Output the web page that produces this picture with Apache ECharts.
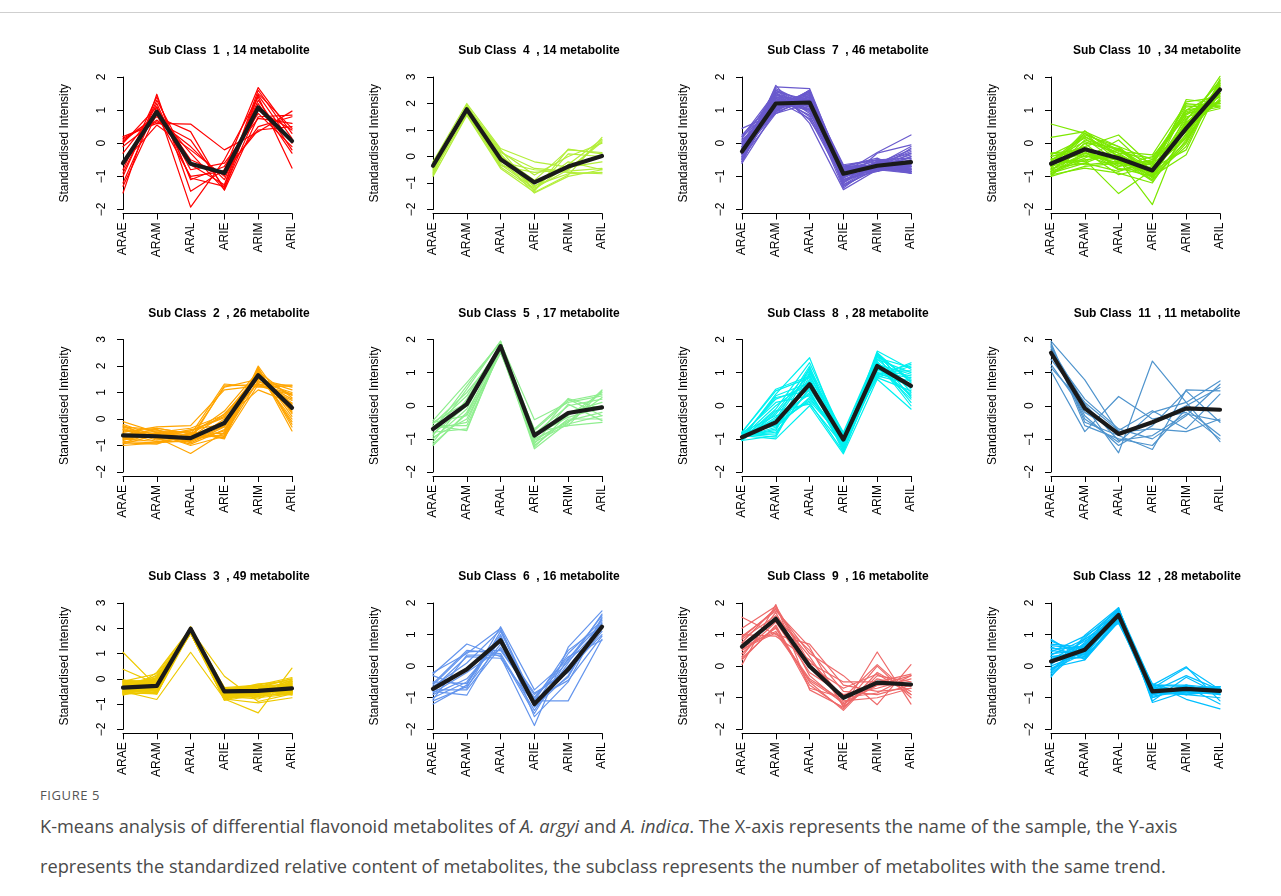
<!DOCTYPE html>
<html>
<head>
<meta charset="utf-8">
<script src="https://cdn.jsdelivr.net/npm/echarts@6/dist/echarts.min.js"></script>
<style>
  html, body { margin: 0; padding: 0; background: #fff; }
  #page { position: relative; width: 1281px; height: 896px; overflow: hidden; background: #fff; }
  #chart { position: absolute; left: 0; top: 0; width: 1281px; height: 780px; }
  #rule { position: absolute; left: 0; top: 12px; width: 1281px; height: 0; border-top: 1px solid #cfcfcf; z-index: 2; }
  #figlabel { position: absolute; left: 40px; top: 786px; font-family: "Open Sans", "Noto Sans", sans-serif; font-size: 13px; letter-spacing: 0.6px; color: #555; }
  #caption { position: absolute; left: 40px; top: 806px; width: 1235px; font-family: "Open Sans", "Noto Sans", sans-serif; font-size: 18.2px; line-height: 40px; color: #4a4a4a; }
</style>
</head>
<body>
<div id="page">
  <div id="chart"></div>
  <div id="rule"></div>
  <div id="figlabel">FIGURE 5</div>
  <div id="caption">K-means analysis of differential flavonoid metabolites of <i>A. argyi</i> and <i>A. indica</i>. The X-axis represents the name of the sample, the Y-axis<br>represents the standardized relative content of metabolites, the subclass represents the number of metabolites with the same trend.</div>
</div>
<script>
// Samples on the x axis
const samples = ['ARAE', 'ARAM', 'ARAL', 'ARIE', 'ARIM', 'ARIL'];

// Sub class 1 – 14 metabolites
const sub1 = [
  [0.2, 0.6, 0.58, -0.2, 0.35, 0.97],
  [-1.5, 1.48, -1.45, -0.8, 1.68, 0.3],
  [-1.2, 1.1, -1.93, -0.5, 1.4, -0.75],
  [0.1, 0.8, 0.35, -1.42, 0.8, 0.85],
  [-0.9, 1.2, -1.05, -1.3, 1.5, 0.45],
  [-0.1, 0.7, -0.1, -1.1, 1.3, -0.2],
  [-0.3, 1.0, -0.5, -0.95, 0.5, 0.8],
  [0.15, 0.65, 0.1, -1.35, 1.0, 0.4],
  [-0.8, 1.4, -1.1, -0.7, 0.9, -0.1],
  [-1.3, 0.9, -0.3, -1.4, 1.45, 0.0],
  [0.0, 1.1, -0.8, -0.6, 0.75, 0.6],
  [-0.6, 0.55, -0.2, -1.0, 1.2, -0.3],
  [-1.0, 1.3, -0.65, -1.25, 1.6, 0.15],
  [0.05, 0.85, -1.0, -0.85, 0.4, 0.5]
];
const sub1Mean = [-0.6, 0.95, -0.62, -0.9, 1.08, 0.07];

// Sub class 2 – 26 metabolites
const sub2 = [
  [-0.1, -0.5, -0.6, 1.32, 1.2, 1.25],
  [-1.0, -0.9, -0.8, 1.25, 1.3, 1.28],
  [-0.5, -0.3, -0.25, 1.1, 1.25, 0.9],
  [-0.7, -0.6, -0.7, 1.2, 1.5, 1.1],
  [-0.3, -0.7, -1.3, -0.5, 1.9, -0.45],
  [-0.9, -0.95, -0.5, -0.75, 2.0, 0.2],
  [-0.6, -0.4, -0.9, -0.3, 1.6, 0.5],
  [-0.4, -0.8, -0.6, 0.3, 1.8, 0.8],
  [-0.8, -0.5, -0.75, -0.6, 1.7, -0.1],
  [-0.2, -0.65, -0.4, -0.2, 1.4, 1.0],
  [-0.75, -0.85, -0.85, 0.0, 1.1, 0.6],
  [-0.5, -0.35, -0.55, -0.7, 1.95, -0.3],
  [-0.95, -0.6, -0.95, -0.4, 1.65, 0.3],
  [-0.35, -0.75, -0.7, 0.2, 1.55, 0.9],
  [-0.65, -0.45, -0.5, -0.55, 1.85, 0.1],
  [-0.85, -0.9, -0.65, -0.1, 1.35, 0.7],
  [-0.45, -0.55, -1.0, -0.65, 1.75, 0.4],
  [-0.6, -0.7, -0.45, 0.1, 1.5, 1.2],
  [-0.3, -0.4, -0.8, -0.45, 1.9, -0.2],
  [-0.75, -0.6, -0.6, -0.3, 1.6, 0.55],
  [-0.55, -0.85, -0.7, -0.6, 1.45, 0.75],
  [-0.9, -0.5, -0.35, 0.15, 1.7, 0.0],
  [-0.4, -0.65, -0.85, -0.25, 1.8, 0.35],
  [-0.7, -0.35, -0.55, -0.7, 1.3, 0.95],
  [-0.25, -0.75, -0.75, -0.15, 1.6, 0.6],
  [-0.8, -0.55, -0.45, 0.05, 1.75, 0.25]
];
const sub2Mean = [-0.62, -0.65, -0.72, -0.15, 1.65, 0.42];

// Sub class 3 – 49 metabolites
const sub3 = [
  [1.05, -0.3, 1.85, -0.6, -0.5, -0.4],
  [0.38, -0.2, 1.95, 0.1, -0.9, -0.6],
  [-0.5, -0.82, 1.05, -0.8, -1.35, 0.42],
  [-0.6, 0.25, 2.0, -0.5, -0.2, -0.1],
  [-0.3, -0.1, 1.9, -0.7, -0.6, -0.5],
  [-0.1, -0.5, 2.05, -0.4, -0.3, 0.0],
  [-0.45, -0.3, 1.8, -0.8, -0.95, -0.75],
  [-0.2, 0.0, 1.95, -0.55, -0.45, -0.3],
  [-0.55, -0.6, 2.0, -0.35, -0.7, -0.55],
  [-0.35, -0.15, 1.85, -0.75, -0.35, -0.2],
  [-0.05, -0.4, 1.9, -0.6, -0.55, -0.45],
  [-0.65, -0.25, 2.05, -0.45, -0.25, 0.05],
  [-0.25, 0.1, 1.8, -0.85, -0.65, -0.6],
  [-0.4, -0.55, 1.95, -0.5, -0.4, -0.35],
  [-0.15, -0.2, 2.0, -0.7, -0.8, -0.15],
  [-0.5, -0.45, 1.85, -0.4, -0.3, -0.5],
  [-0.3, 0.05, 1.9, -0.65, -0.6, -0.25],
  [-0.6, -0.35, 2.05, -0.55, -0.45, -0.65],
  [-0.1, -0.1, 1.8, -0.8, -0.5, -0.05],
  [-0.45, -0.6, 1.95, -0.45, -0.35, -0.45],
  [-0.2, -0.25, 2.0, -0.75, -0.7, -0.3],
  [-0.55, 0.15, 1.85, -0.35, -0.25, -0.55],
  [-0.35, -0.5, 1.9, -0.6, -0.55, -0.2],
  [-0.05, -0.15, 2.05, -0.5, -0.4, -0.6],
  [-0.5, -0.4, 1.8, -0.7, -0.65, -0.1],
  [-0.25, 0.0, 1.95, -0.4, -0.3, -0.4],
  [-0.6, -0.55, 2.0, -0.85, -0.5, -0.5],
  [-0.15, -0.3, 1.85, -0.55, -0.45, -0.25],
  [-0.4, -0.05, 1.9, -0.65, -0.75, -0.6],
  [-0.3, -0.45, 2.05, -0.45, -0.35, 0.0],
  [-0.55, -0.2, 1.8, -0.75, -0.55, -0.35],
  [-0.1, 0.2, 1.95, -0.5, -0.25, -0.55],
  [-0.45, -0.35, 2.0, -0.6, -0.6, -0.15],
  [-0.2, -0.6, 1.85, -0.4, -0.4, -0.45],
  [-0.6, -0.1, 1.9, -0.8, -0.5, -0.3],
  [-0.35, -0.4, 2.05, -0.55, -0.7, -0.5],
  [-0.05, -0.25, 1.8, -0.7, -0.3, -0.2],
  [-0.5, 0.05, 1.95, -0.45, -0.45, -0.6],
  [-0.25, -0.5, 2.0, -0.6, -0.55, -0.05],
  [-0.4, -0.15, 1.85, -0.75, -0.35, -0.4],
  [-0.15, -0.3, 1.9, -0.5, -0.65, -0.25],
  [-0.55, -0.45, 2.05, -0.65, -0.5, -0.55],
  [-0.3, 0.0, 1.8, -0.4, -0.4, -0.35],
  [-0.6, -0.55, 1.95, -0.55, -0.6, -0.1],
  [-0.2, -0.2, 2.0, -0.7, -0.3, -0.5],
  [-0.45, -0.35, 1.85, -0.5, -0.55, -0.3],
  [-0.1, -0.05, 1.9, -0.6, -0.45, -0.45],
  [-0.35, -0.5, 2.05, -0.45, -0.7, -0.2],
  [-0.5, -0.25, 1.8, -0.8, -0.5, -0.4]
];
const sub3Mean = [-0.35, -0.28, 1.98, -0.5, -0.48, -0.38];

// Sub class 4 – 14 metabolites
const sub4 = [
  [-0.2, 2.0, 0.3, -0.2, -0.4, -0.2],
  [-0.75, 1.55, -0.45, -1.35, -0.7, 0.72],
  [-0.3, 1.9, 0.1, -1.3, 0.28, 0.1],
  [-0.5, 1.7, -0.3, -1.2, -0.5, 0.6],
  [-0.6, 1.6, -0.2, -0.5, -0.6, -0.65],
  [-0.25, 1.85, 0.2, -0.7, 0.0, 0.5],
  [-0.4, 1.75, -0.1, -1.38, -0.75, -0.5],
  [-0.7, 1.95, 0.0, -0.9, 0.25, 0.15],
  [-0.35, 1.65, -0.4, -1.25, -0.3, 0.65],
  [-0.55, 1.8, 0.15, -0.45, -0.55, -0.45],
  [-0.2, 1.6, -0.25, -1.1, -0.65, -0.6],
  [-0.65, 1.9, 0.25, -1.3, 0.1, 0.0],
  [-0.45, 1.7, -0.35, -0.6, -0.5, 0.55],
  [-0.3, 1.85, 0.05, -1.15, -0.2, -0.5]
];
const sub4Mean = [-0.35, 1.78, -0.1, -0.98, -0.38, 0.02];

// Sub class 5 – 17 metabolites
const sub5 = [
  [-0.45, 0.7, 1.9, -0.42, 0.1, 0.3],
  [-1.2, -0.2, 1.7, -1.3, -0.5, 0.48],
  [-0.6, -0.75, 1.8, -0.8, -0.6, -0.5],
  [-0.9, 0.5, 1.95, -1.0, 0.22, -0.1],
  [-0.5, -0.3, 1.6, -0.9, -0.3, 0.4],
  [-1.1, 0.2, 1.85, -1.1, -0.55, -0.3],
  [-0.7, -0.5, 1.75, -0.85, 0.0, 0.2],
  [-0.55, 0.4, 1.65, -1.2, -0.4, -0.4],
  [-1.0, -0.1, 1.9, -0.75, 0.15, 0.35],
  [-0.8, -0.7, 1.7, -1.05, -0.45, -0.2],
  [-0.65, 0.3, 1.8, -0.95, -0.2, 0.1],
  [-0.95, -0.4, 1.6, -0.8, -0.6, 0.45],
  [-0.5, 0.1, 1.85, -1.15, 0.05, -0.45],
  [-1.15, -0.25, 1.75, -0.9, -0.35, -0.05],
  [-0.75, 0.6, 1.95, -1.0, -0.5, 0.25],
  [-0.6, -0.6, 1.65, -0.7, 0.2, -0.3],
  [-0.85, 0.0, 1.8, -1.25, -0.25, 0.0]
];
const sub5Mean = [-0.7, 0.05, 1.8, -0.9, -0.22, -0.05];

// Sub class 6 – 16 metabolites
const sub6 = [
  [-0.2, 0.4, 1.2, -1.1, -1.1, 0.85],
  [-0.25, 0.7, 0.3, -1.88, 0.6, 1.75],
  [-1.2, -0.6, 1.25, -0.75, 0.2, 1.6],
  [-0.8, -0.92, 0.9, -1.3, -0.3, 1.4],
  [-0.6, 0.45, 0.5, -1.0, 0.3, 0.82],
  [-1.0, -0.5, 1.0, -1.6, -0.5, 1.5],
  [-0.7, 0.3, 0.25, -1.2, 0.0, 1.2],
  [-0.3, -0.7, 1.1, -1.1, 0.5, 1.3],
  [-1.1, -0.65, 0.7, -0.85, -0.2, 1.1],
  [-0.55, 0.5, 0.4, -1.4, 0.1, 1.65],
  [-0.9, -0.4, 0.8, -1.05, -0.45, 0.95],
  [-0.65, 0.1, 1.15, -1.25, 0.4, 1.45],
  [-0.75, -0.75, 0.6, -0.9, -0.1, 1.0],
  [-1.05, 0.35, 0.35, -1.5, 0.25, 1.35],
  [-0.5, -0.55, 0.95, -1.15, -0.35, 1.55],
  [-0.85, -0.2, 0.55, -1.0, 0.15, 1.25]
];
const sub6Mean = [-0.72, -0.1, 0.82, -1.2, -0.1, 1.25];

// Sub class 7 – 46 metabolites
const sub7 = [
  [0.45, 0.9, 1.2, -0.7, -0.65, -0.6],
  [-0.6, 1.75, 0.6, -1.4, -0.8, -0.85],
  [-0.3, 1.7, 1.65, -0.9, -0.28, 0.25],
  [0.1, 1.0, 1.5, -1.2, -0.3, -0.05],
  [-0.5, 1.2, 1.0, -0.7, -0.75, -0.9],
  [-0.2, 1.4, 1.3, -1.0, -0.6, -0.2],
  [0.0, 0.95, 1.6, -0.8, -0.7, -0.7],
  [-0.4, 1.3, 1.1, -1.1, -0.85, -0.4],
  [0.2, 1.1, 1.4, -0.65, -0.5, -0.8],
  [-0.55, 1.5, 0.8, -0.9, -0.65, -0.1],
  [-0.1, 1.05, 1.55, -1.3, -0.75, -0.6],
  [-0.35, 1.6, 0.9, -0.75, -0.55, -0.85],
  [0.05, 0.9, 1.45, -1.0, -0.8, -0.3],
  [-0.25, 1.35, 1.2, -0.85, -0.6, -0.75],
  [-0.45, 1.15, 1.35, -1.15, -0.7, -0.5],
  [-0.15, 1.25, 1.05, -0.7, -0.45, -0.9],
  [0.15, 1.45, 1.25, -0.95, -0.85, -0.65],
  [-0.6, 1.0, 1.6, -1.25, -0.65, -0.35],
  [-0.3, 1.55, 0.7, -0.8, -0.75, -0.8],
  [-0.05, 1.2, 1.5, -1.05, -0.55, -0.55],
  [-0.5, 1.65, 1.15, -0.9, -0.8, -0.15],
  [-0.2, 0.95, 1.3, -0.7, -0.7, -0.85],
  [0.25, 1.3, 1.0, -1.35, -0.6, -0.7],
  [-0.4, 1.1, 1.45, -0.85, -0.5, -0.45],
  [-0.1, 1.5, 1.2, -0.75, -0.8, -0.9],
  [-0.55, 1.35, 0.85, -1.1, -0.75, -0.6],
  [0.1, 1.05, 1.6, -0.95, -0.65, -0.25],
  [-0.35, 1.25, 1.3, -0.8, -0.7, -0.8],
  [-0.2, 1.6, 1.1, -1.2, -0.6, -0.7],
  [-0.45, 0.9, 1.4, -0.7, -0.85, -0.5],
  [0.0, 1.4, 0.95, -1.0, -0.55, -0.85],
  [-0.3, 1.15, 1.55, -0.9, -0.7, -0.65],
  [-0.15, 1.3, 1.25, -1.3, -0.75, -0.4],
  [-0.5, 1.5, 1.0, -0.75, -0.65, -0.9],
  [0.05, 1.0, 1.35, -0.85, -0.8, -0.75],
  [-0.25, 1.2, 1.5, -1.05, -0.6, -0.3],
  [-0.4, 1.45, 1.15, -0.95, -0.7, -0.8],
  [-0.1, 1.1, 1.4, -0.7, -0.5, -0.6],
  [-0.55, 1.3, 0.75, -1.15, -0.75, -0.85],
  [0.2, 1.55, 1.3, -0.8, -0.65, -0.45],
  [-0.3, 0.95, 1.6, -1.25, -0.8, -0.7],
  [-0.2, 1.35, 1.05, -0.9, -0.6, -0.9],
  [-0.45, 1.2, 1.45, -0.75, -0.7, -0.55],
  [0.0, 1.6, 1.2, -1.0, -0.55, -0.8],
  [-0.35, 1.05, 1.3, -0.85, -0.75, -0.65],
  [-0.15, 1.4, 1.1, -1.1, -0.65, -0.75]
];
const sub7Mean = [-0.25, 1.2, 1.23, -0.92, -0.68, -0.57];

// Sub class 8 – 28 metabolites
const sub8 = [
  [-0.8, 0.5, 0.9, -0.85, 0.9, 1.3],
  [-1.0, 0.35, 1.45, -1.1, 1.65, 1.1],
  [-0.9, -1.0, 0.0, -1.45, 0.8, -0.1],
  [-1.05, -0.2, 1.1, -1.2, 1.5, 0.8],
  [-0.85, -0.6, 0.2, -0.9, 1.2, 0.2],
  [-0.95, 0.3, 0.7, -1.3, 1.4, 1.0],
  [-0.9, -0.8, 0.5, -1.0, 1.0, 0.6],
  [-1.0, -0.4, 1.2, -1.35, 1.6, 0.4],
  [-0.85, 0.1, 0.3, -0.95, 0.85, 1.2],
  [-0.95, -0.7, 0.8, -1.15, 1.3, 0.0],
  [-0.8, -0.3, 0.1, -1.4, 1.1, 0.9],
  [-1.05, -0.9, 1.0, -0.8, 1.55, 0.5],
  [-0.9, 0.2, 0.6, -1.05, 0.95, 0.75],
  [-0.85, -0.5, 0.4, -1.25, 1.45, 1.15],
  [-1.0, -0.1, 1.3, -0.9, 1.2, 0.3],
  [-0.95, -0.65, 0.25, -1.1, 0.9, 0.65],
  [-0.8, 0.45, 0.85, -1.3, 1.35, 0.1],
  [-0.9, -0.85, 0.55, -0.95, 1.05, 1.05],
  [-1.05, -0.25, 0.95, -1.2, 1.6, 0.7],
  [-0.85, -0.55, 0.15, -1.0, 0.85, 0.45],
  [-0.95, 0.0, 0.75, -1.4, 1.25, 0.95],
  [-0.9, -0.75, 1.15, -0.85, 1.5, 0.25],
  [-1.0, -0.35, 0.35, -1.15, 1.0, 0.85],
  [-0.8, -0.6, 0.65, -1.05, 1.4, 0.55],
  [-0.95, 0.25, 0.45, -1.3, 0.95, 1.25],
  [-0.85, -0.95, 0.9, -0.9, 1.15, 0.35],
  [-1.0, -0.15, 0.05, -1.2, 1.3, 0.6],
  [-0.9, -0.45, 1.05, -1.0, 1.55, 0.75]
];
const sub8Mean = [-0.95, -0.5, 0.65, -1.02, 1.2, 0.6];

// Sub class 9 – 16 metabolites
const sub9 = [
  [1.55, 1.0, 0.7, -0.6, -0.8, -0.7],
  [0.05, 1.95, -0.75, -1.3, 0.45, -1.2],
  [0.9, 1.8, 0.4, -0.3, -1.22, 0.05],
  [0.5, 1.2, -0.5, -1.4, -0.3, -0.5],
  [1.0, 0.95, 0.2, -1.0, 0.05, -0.9],
  [0.3, 1.7, -0.3, -1.2, -0.6, -0.3],
  [0.7, 1.5, 0.5, -0.8, -0.9, -0.6],
  [0.2, 1.3, -0.6, -1.35, -0.2, -0.8],
  [1.2, 1.9, 0.1, -0.5, -0.5, -0.25],
  [0.6, 1.1, -0.4, -1.1, -1.0, -0.7],
  [0.85, 1.6, 0.3, -1.25, 0.0, -1.0],
  [0.4, 1.4, -0.2, -0.9, -0.7, -0.4],
  [0.95, 1.75, 0.6, -1.3, -0.4, -0.65],
  [0.25, 1.25, -0.7, -1.0, -0.85, -0.3],
  [0.75, 1.85, 0.0, -0.7, -0.25, -0.9],
  [0.55, 1.05, -0.45, -1.15, -0.6, -0.55]
];
const sub9Mean = [0.62, 1.5, 0.0, -1.0, -0.52, -0.58];

// Sub class 10 – 34 metabolites
const sub10 = [
  [0.58, 0.3, -0.2, -0.6, 0.9, 1.1],
  [0.18, 0.35, -0.1, -0.5, 1.0, 1.2],
  [-0.9, -0.5, -1.52, -0.8, 0.2, 1.5],
  [-0.8, -0.3, -0.5, -1.85, 0.7, 1.9],
  [-1.0, -0.7, -0.6, -1.1, 0.0, 1.8],
  [-0.6, 0.2, -0.3, -0.9, 1.32, 1.2],
  [-0.5, -0.1, 0.25, -0.7, 1.25, 1.4],
  [-0.7, 0.38, -0.4, -1.0, 0.5, 2.02],
  [-0.95, -0.75, -0.9, -1.2, 0.3, 1.7],
  [-0.4, -0.2, -0.7, -0.4, 0.8, 1.05],
  [-0.85, 0.1, -0.2, -0.85, 0.6, 1.6],
  [-0.3, -0.4, -0.5, -1.0, -0.35, 1.75],
  [-0.75, -0.6, -0.85, -0.55, 0.4, 1.3],
  [-0.65, 0.25, -0.1, -0.95, 1.1, 1.15],
  [-0.9, -0.3, -0.65, -0.75, -0.2, 1.95],
  [-0.55, -0.5, -0.35, -1.05, 0.2, 1.85],
  [-1.0, 0.0, -0.8, -0.6, 0.9, 1.45],
  [-0.45, -0.65, -0.55, -0.9, 0.65, 1.25],
  [-0.7, 0.3, -0.25, -0.35, 1.2, 1.1],
  [-0.8, -0.15, -0.45, -1.15, 0.1, 1.65],
  [-0.6, -0.55, -0.15, -0.8, 0.75, 1.5],
  [-0.35, 0.15, -0.6, -0.65, 0.35, 1.35],
  [-0.95, -0.35, -0.75, -1.0, -0.1, 1.9],
  [-0.5, 0.05, -0.3, -0.45, 1.0, 1.55],
  [-0.85, -0.45, 0.1, -0.85, 0.55, 1.75],
  [-0.65, -0.25, -0.95, -0.7, 0.25, 1.6],
  [-0.75, 0.2, -0.4, -1.1, 0.85, 1.4],
  [-0.4, -0.1, -0.7, -0.5, 0.45, 1.3],
  [-0.9, -0.6, -0.2, -0.95, 0.05, 1.8],
  [-0.55, 0.3, -0.55, -0.6, 1.15, 1.2],
  [-0.7, -0.4, -0.35, -0.8, 0.6, 1.7],
  [-0.3, -0.2, -0.8, -0.75, 0.15, 1.5],
  [-0.85, 0.0, -0.15, -1.0, 0.7, 1.85],
  [-0.6, -0.3, -0.6, -0.55, 0.95, 1.25]
];
const sub10Mean = [-0.62, -0.18, -0.45, -0.82, 0.45, 1.62];

// Sub class 11 – 11 metabolites
const sub11 = [
  [1.95, 0.78, -0.8, -0.7, -0.78, -0.4],
  [1.05, -0.78, 0.28, -0.4, -0.2, -1.0],
  [1.15, 0.0, -1.42, 1.35, 0.1, -1.08],
  [1.9, -0.5, -0.9, -1.32, 0.48, 0.45],
  [1.8, -0.4, -1.1, -0.2, 0.1, 0.75],
  [1.6, 0.2, -0.7, -1.0, -0.3, 0.65],
  [1.7, -0.3, -1.2, -0.6, 0.45, -0.5],
  [1.4, 0.1, -0.75, -0.15, -0.7, 0.35],
  [1.85, -0.6, -1.0, -1.2, -0.1, -0.9],
  [1.25, -0.2, -0.8, -0.5, 0.0, 0.55],
  [1.75, 0.05, -1.05, -0.9, -0.25, -0.45]
];
const sub11Mean = [1.6, -0.08, -0.85, -0.5, -0.08, -0.12];

// Sub class 12 – 28 metabolites
const sub12 = [
  [0.85, 0.2, 1.5, -0.6, -0.02, -1.1],
  [-0.35, 0.98, 1.85, -1.15, -0.8, -0.7],
  [0.6, 0.3, 1.4, -0.55, -1.05, -1.35],
  [0.1, 0.7, 1.7, -0.8, -0.3, -0.75],
  [0.4, 0.5, 1.6, -0.9, -0.7, -0.8],
  [-0.2, 0.9, 1.8, -0.75, -0.85, -0.65],
  [0.3, 0.25, 1.45, -1.0, -0.6, -0.9],
  [0.7, 0.6, 1.55, -0.65, -0.9, -0.7],
  [-0.1, 0.4, 1.75, -0.85, -0.75, -0.85],
  [0.2, 0.8, 1.35, -0.7, -0.05, -0.75],
  [0.5, 0.35, 1.65, -0.95, -0.8, -0.7],
  [-0.3, 0.65, 1.8, -0.6, -0.65, -0.8],
  [0.0, 0.45, 1.5, -0.8, -0.9, -1.0],
  [0.35, 0.85, 1.6, -0.75, -0.7, -0.65],
  [0.15, 0.3, 1.7, -1.1, -0.35, -0.9],
  [0.65, 0.55, 1.45, -0.7, -0.85, -0.75],
  [-0.15, 0.75, 1.85, -0.9, -0.75, -0.7],
  [0.25, 0.4, 1.55, -0.6, -0.6, -0.85],
  [0.45, 0.95, 1.65, -0.8, -0.8, -0.65],
  [-0.05, 0.2, 1.4, -0.85, -0.7, -0.8],
  [0.55, 0.6, 1.75, -0.65, -0.9, -0.7],
  [0.1, 0.5, 1.5, -1.0, -0.65, -1.2],
  [-0.25, 0.7, 1.6, -0.7, -0.75, -0.75],
  [0.8, 0.35, 1.8, -0.75, -0.85, -0.85],
  [0.05, 0.85, 1.45, -0.9, -0.6, -0.7],
  [0.3, 0.45, 1.7, -0.6, -0.8, -0.9],
  [0.6, 0.25, 1.55, -0.8, -0.7, -0.65],
  [-0.1, 0.65, 1.65, -0.85, -0.9, -0.8]
];
const sub12Mean = [0.15, 0.52, 1.62, -0.8, -0.72, -0.78];

// Metabolite counts shown in the panel titles
const counts = [14, 26, 49, 14, 17, 16, 46, 28, 16, 34, 11, 28];
// Upper limit of each panel's y axis
const yMax = [2, 3, 3, 3, 2, 2, 2, 2, 2, 2, 2, 2];

const members = [sub1, sub2, sub3, sub4, sub5, sub6, sub7, sub8, sub9, sub10, sub11, sub12];
const means = [sub1Mean, sub2Mean, sub3Mean, sub4Mean, sub5Mean, sub6Mean, sub7Mean, sub8Mean, sub9Mean, sub10Mean, sub11Mean, sub12Mean];
const colors = ['#ff0000', '#ffa500', '#eec900', '#b3ee3a', '#90ee90', '#6495ed',
                '#6a5acd', '#00f0f0', '#ee6a6a', '#7ce800', '#4f94cd', '#00bfff'];

// Panel grid geometry (3 rows x 4 columns, sub classes run down the columns)
const colLeft = [123, 433, 742, 1051];
const rowTop = [77, 339.5, 603];
const plotW = 169;
const plotH = 132.5;
const FONT = '"Liberation Sans", Arial, Helvetica, sans-serif';
const fmtTick = v => String(v).replace('-', '\u2212');

const grids = [], xAxes = [], yAxes = [], titles = [], series = [];
for (let k = 0; k < 12; k++) {
  const col = Math.floor(k / 3), row = k % 3;
  const left = colLeft[col], top = rowTop[row];
  grids.push({ left: left, top: top, width: plotW, height: plotH, containLabel: false });
  titles.push({
    text: 'Sub Class  ' + (k + 1) + '  , ' + counts[k] + ' metabolite',
    left: left + 101, top: top - 37, textAlign: 'center',
    textStyle: { fontFamily: FONT, fontSize: 12, fontWeight: 'bold', color: '#000' }
  });
  xAxes.push({
    gridIndex: k, type: 'category', data: samples, boundaryGap: false, offset: 4,
    axisLine: { show: true, onZero: false, lineStyle: { color: '#000', width: 1 } },
    axisTick: { show: true, alignWithLabel: true, length: 6, lineStyle: { color: '#000' } },
    axisLabel: { rotate: 90, margin: 9, fontFamily: FONT, fontSize: 12, color: '#000', interval: 0 },
    splitLine: { show: false }
  });
  yAxes.push({
    gridIndex: k, type: 'value', min: -2, max: yMax[k], interval: 1,
    name: 'Standardised Intensity', nameLocation: 'middle', nameGap: 52, nameRotate: 90,
    nameTextStyle: { fontFamily: FONT, fontSize: 12, color: '#000' },
    axisLine: { show: true, onZero: false, lineStyle: { color: '#000', width: 1 } },
    axisTick: { show: true, length: 6, lineStyle: { color: '#000' } },
    axisLabel: { rotate: 90, margin: 15, fontFamily: FONT, fontSize: 12, color: '#000', formatter: fmtTick },
    splitLine: { show: false }
  });
  members[k].forEach(vals => {
    series.push({
      type: 'line', xAxisIndex: k, yAxisIndex: k, data: vals,
      symbol: 'none', silent: true, clip: false, z: 2,
      lineStyle: { color: colors[k], width: 1.2, join: 'round', cap: 'round' }
    });
  });
  series.push({
    type: 'line', xAxisIndex: k, yAxisIndex: k, data: means[k],
    symbol: 'none', silent: true, clip: false, z: 3,
    lineStyle: { color: '#1a1a1a', width: 4.2, join: 'round', cap: 'round' }
  });
}

const chart = echarts.init(document.getElementById('chart'), null, { renderer: 'canvas' });
chart.setOption({
  animation: false,
  title: titles,
  grid: grids,
  xAxis: xAxes,
  yAxis: yAxes,
  series: series
});
</script>
</body>
</html>
